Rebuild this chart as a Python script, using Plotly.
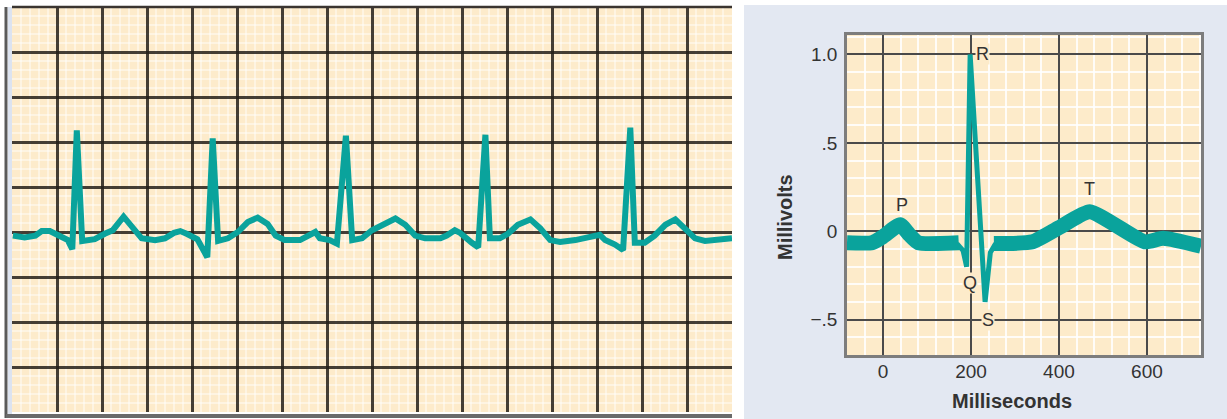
import plotly.graph_objects as go

# ---------------- Left panel: rhythm strip (grid units: 1 small box = 1 mm) -------------
strip_x = [0.1, 1.4, 2.6, 3.3, 4.2, 4.8, 5.6, 6.2, 6.7, 7.2, 7.8, 9.2, 10.3, 11.2, 12.4, 13.7,
           14.4, 15.9, 17.0, 18.0, 18.7, 19.4, 20.6, 21.7, 22.3, 22.9, 24.0, 25.1, 26.2, 27.3,
           28.4, 29.3, 30.3, 32.0, 33.1, 33.7, 34.2, 35.3, 36.1, 37.1, 37.8, 38.9, 40.0, 40.9,
           42.6, 43.7, 44.8, 45.9, 47.6, 48.3, 49.2, 49.8, 50.6, 51.1, 51.8, 52.6, 53.1, 54.2,
           55.1, 56.2, 57.6, 58.7, 59.8, 60.9, 62.6, 64.2, 65.3, 65.9, 67.0, 67.9, 68.7, 69.2,
           70.3, 71.4, 72.6, 73.7, 74.8, 75.9, 77.0, 78.7, 80.0]
strip_y = [19.6, 19.4, 19.6, 20.1, 20.1, 19.8, 19.4, 19.1, 18.1, 31.3, 19.0, 19.2, 19.8, 20.2,
           21.7, 20.2, 19.3, 19.1, 19.3, 19.9, 20.1, 19.8, 19.2, 17.2, 30.4, 19.0, 19.3, 20.0,
           21.1, 21.6, 20.9, 19.6, 19.1, 19.1, 19.6, 20.0, 19.3, 19.1, 18.7, 30.7, 19.1, 19.3,
           20.2, 20.7, 21.5, 20.8, 19.6, 19.3, 19.3, 19.6, 20.2, 19.9, 19.1, 18.8, 18.3, 30.8,
           19.3, 19.3, 19.8, 20.8, 21.4, 20.4, 19.1, 18.9, 19.1, 19.4, 19.7, 19.1, 18.6, 18.0,
           31.6, 18.8, 18.8, 19.6, 20.8, 21.4, 20.4, 19.3, 19.0, 19.2, 19.3]

# ---------------- Right panel: single beat (ms, mV) ----------------
pre_t = [-82, -25, 0, 39, 60, 80, 172]
pre_v = [-0.065, -0.065, -0.03, 0.037, -0.02, -0.065, -0.065]
qrs_t = [168, 182, 190, 198, 232, 244, 256]
qrs_v = [-0.07, -0.11, -0.20, 1.0, -0.40, -0.12, -0.07]
post_t = [252, 340, 400, 470, 595, 637, 723]
post_v = [-0.07, -0.06, 0.02, 0.11, -0.06, -0.04, -0.085]

wave_labels = ["P", "Q", "R", "S", "T"]
wave_label_t = [43, 198, 227, 239, 470]
wave_label_v = [0.148, -0.29, 1.0, -0.5, 0.24]

y_tickvals = [-0.5, 0, 0.5, 1.0]
y_ticktext = ["\u2212.5", "0", ".5", "1.0"]
x_tickvals = [0, 200, 400, 600]

TEAL = "#0AA39C"
CREAM_L = "#FDEBCB"
CREAM_R = "#FDEBCA"
TXT = "#333333"
FONT = "Liberation Sans, Arial, sans-serif"

fig = go.Figure()

fig.add_trace(go.Scatter(x=strip_x, y=strip_y, xaxis="x", yaxis="y", mode="lines",
                         line=dict(color=TEAL, width=6), hoverinfo="skip"))
fig.add_trace(go.Scatter(x=pre_t, y=pre_v, xaxis="x2", yaxis="y2", mode="lines",
                         line=dict(color=TEAL, width=15, shape="spline", smoothing=0.5),
                         hoverinfo="skip"))
fig.add_trace(go.Scatter(x=post_t, y=post_v, xaxis="x2", yaxis="y2", mode="lines",
                         line=dict(color=TEAL, width=15, shape="spline", smoothing=0.5),
                         hoverinfo="skip"))
fig.add_trace(go.Scatter(x=qrs_t, y=qrs_v, xaxis="x2", yaxis="y2", mode="lines",
                         line=dict(color=TEAL, width=5), hoverinfo="skip"))

shapes = [
    # right panel light blue background
    dict(type="rect", xref="paper", yref="paper", x0=744/1227, x1=1.0, y0=0, y1=(419-5)/419,
         fillcolor="#E3E8F2", line=dict(width=0), layer="below"),
    # cream plot area of right panel (drawn over the blue rect, under grid)
    dict(type="rect", xref="x2 domain", yref="y2 domain", x0=0, x1=1, y0=0, y1=1,
         fillcolor=CREAM_R, line=dict(width=0), layer="below"),
    # left panel edge decorations
    dict(type="rect", xref="paper", yref="paper", x0=8/1227, x1=12/1227, y0=2/419, y1=412/419,
         fillcolor="#DCE3F0", line=dict(width=0), layer="below"),
    dict(type="line", xref="paper", yref="paper", x0=6/1227, x1=6/1227, y0=1/419, y1=412/419,
         line=dict(color="#5a5a5a", width=3)),
    dict(type="line", xref="paper", yref="paper", x0=6/1227, x1=732/1227, y0=3/419, y1=3/419,
         line=dict(color="#6a6a6a", width=4)),
    dict(type="line", xref="paper", yref="paper", x0=12/1227, x1=732/1227, y0=412/419, y1=412/419,
         line=dict(color="#3a3530", width=2.5)),
]

annotations = []
for lab, t, v in zip(wave_labels, wave_label_t, wave_label_v):
    bg = CREAM_R if lab in ("Q", "R", "S") else None
    annotations.append(dict(x=t, y=v, xref="x2", yref="y2", text=lab, showarrow=False,
                            font=dict(family=FONT, size=18, color=TXT),
                            bgcolor=bg, borderpad=0))
annotations.append(dict(x=785/1227, y=(419-217)/419, xref="paper", yref="paper",
                        xanchor="center", yanchor="middle",
                        text="<b>Millivolts</b>", textangle=-90, showarrow=False,
                        font=dict(family=FONT, size=20, color=TXT)))
annotations.append(dict(x=1012/1227, y=(419-401)/419, xref="paper", yref="paper",
                        xanchor="center", yanchor="middle",
                        text="<b>Milliseconds</b>", showarrow=False,
                        font=dict(family=FONT, size=20, color=TXT)))

fig.update_layout(
    width=1227, height=419, margin=dict(l=0, r=0, t=0, b=0),
    paper_bgcolor="white", plot_bgcolor=CREAM_L, showlegend=False,
    shapes=shapes, annotations=annotations,
    xaxis=dict(domain=[12/1227, 732/1227], range=[0, 80], tick0=0, dtick=5,
               showticklabels=False, ticks="", zeroline=False, showline=False,
               showgrid=True, gridcolor="rgba(35,30,25,0.85)", gridwidth=2.5,
               minor=dict(dtick=1, showgrid=True, gridcolor="rgba(255,255,255,0.45)", gridwidth=1.5),
               fixedrange=True),
    yaxis=dict(domain=[7/419, 412/419], range=[0, 45], tick0=0, dtick=5,
               showticklabels=False, ticks="", zeroline=False, showline=False,
               showgrid=True, gridcolor="rgba(35,30,25,0.85)", gridwidth=2.5,
               minor=dict(dtick=1, showgrid=True, gridcolor="rgba(255,255,255,0.45)", gridwidth=1.5),
               fixedrange=True),
    xaxis2=dict(domain=[847/1227, 1201/1227], range=[-82, 723], anchor="y2",
                tickvals=x_tickvals, ticks="", ticklabelstandoff=-3,
                tickfont=dict(family=FONT, size=19, color=TXT),
                zeroline=False, showline=True, mirror=True, linecolor="#7d7d7d", linewidth=2.5,
                showgrid=True, gridcolor="#4a4a4a", gridwidth=1.5,
                minor=dict(dtick=40, tick0=0, showgrid=True, gridcolor="rgba(255,255,255,0.85)", gridwidth=1.5),
                fixedrange=True),
    yaxis2=dict(domain=[(419-355)/419, (419-35)/419], range=[-0.70, 1.11], anchor="x2",
                tickvals=y_tickvals, ticktext=y_ticktext, ticks="outside", ticklen=3,
                tickcolor="rgba(0,0,0,0)",
                tickfont=dict(family=FONT, size=19, color=TXT),
                zeroline=False, showline=True, mirror=True, linecolor="#7d7d7d", linewidth=2.5,
                showgrid=True, gridcolor="#4a4a4a", gridwidth=1.5,
                minor=dict(dtick=0.1, tick0=0, showgrid=True, gridcolor="rgba(255,255,255,0.85)", gridwidth=1.5),
                fixedrange=True),
)

fig.write_html("out.html", config={"displayModeBar": False},
               post_script="document.body.style.margin='0';document.body.style.overflow='hidden';")
